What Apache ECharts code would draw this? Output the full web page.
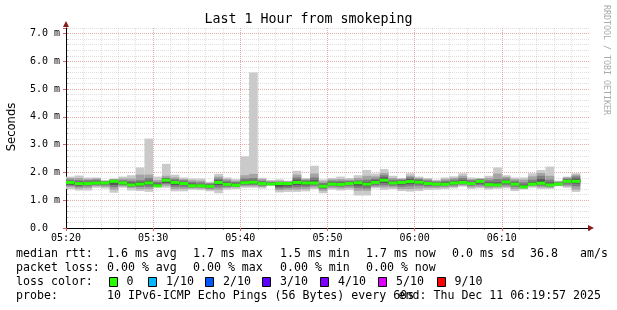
<!DOCTYPE html>
<html><head><meta charset="utf-8">
<script src="https://cdn.jsdelivr.net/npm/echarts@6/dist/echarts.min.js"></script>
<style>html,body{margin:0;padding:0;background:#fff}#c{width:617px;height:310px}</style>
</head><body><div id="c"></div>
<script>
// ---- data (milliseconds) ----
const stepStarts = ['05:20','05:21','05:22','05:23','05:24','05:25','05:26','05:27','05:28','05:29',
  '05:30','05:31','05:32','05:33','05:34','05:35','05:36','05:37','05:38','05:39',
  '05:40','05:41','05:42','05:43','05:44','05:45','05:46','05:47','05:48','05:49',
  '05:50','05:51','05:52','05:53','05:54','05:55','05:56','05:57','05:58','05:59',
  '06:00','06:01','06:02','06:03','06:04','06:05','06:06','06:07','06:08','06:09',
  '06:10','06:11','06:12','06:13','06:14','06:15','06:16','06:17','06:18'];
const tickLabels = ['05:20','05:30','05:40','05:50','06:00','06:10'];
const ping1 = [1.40,1.35,1.35,1.45,1.42,1.27,1.45,1.35,1.33,1.30, 1.45,1.45,1.32,1.32,1.38,1.36,1.32,1.25,1.38,1.40, 1.45,1.45,1.42,1.52,1.28,1.30,1.30,1.32,1.40,1.25, 1.38,1.35,1.37,1.17,1.17,1.43,1.37,1.40,1.33,1.31, 1.33,1.37,1.38,1.40,1.43,1.49,1.41,1.43,1.38,1.41, 1.43,1.33,1.39,1.45,1.41,1.41,1.50,1.45,1.30];
const ping2 = [1.47,1.42,1.44,1.50,1.48,1.38,1.50,1.44,1.40,1.40, 1.48,1.52,1.40,1.40,1.42,1.42,1.38,1.38,1.44,1.46, 1.50,1.50,1.48,1.54,1.36,1.38,1.38,1.40,1.46,1.34, 1.44,1.42,1.44,1.34,1.34,1.48,1.46,1.46,1.40,1.40, 1.42,1.44,1.44,1.46,1.48,1.53,1.46,1.48,1.44,1.46, 1.48,1.40,1.42,1.50,1.46,1.45,1.52,1.50,1.38];
const ping3 = [1.52,1.48,1.50,1.54,1.53,1.47,1.54,1.48,1.48,1.48, 1.50,1.58,1.48,1.47,1.46,1.46,1.42,1.46,1.48,1.49, 1.54,1.55,1.52,1.55,1.42,1.44,1.46,1.48,1.52,1.40, 1.50,1.48,1.50,1.44,1.42,1.53,1.54,1.52,1.48,1.50, 1.52,1.50,1.50,1.50,1.53,1.57,1.52,1.54,1.50,1.50, 1.54,1.48,1.44,1.53,1.52,1.49,1.54,1.56,1.50];
const ping4 = [1.56,1.53,1.55,1.58,1.57,1.55,1.57,1.52,1.52,1.55, 1.52,1.62,1.55,1.54,1.48,1.48,1.46,1.55,1.52,1.51, 1.58,1.60,1.56,1.56,1.48,1.50,1.54,1.54,1.58,1.44, 1.54,1.53,1.55,1.52,1.50,1.58,1.62,1.57,1.56,1.58, 1.58,1.54,1.54,1.53,1.57,1.60,1.56,1.60,1.53,1.53, 1.60,1.54,1.46,1.56,1.57,1.52,1.56,1.62,1.60];
const ping5 = [1.60,1.57,1.58,1.60,1.60,1.64,1.60,1.53,1.55,1.60, 1.52,1.70,1.61,1.58,1.50,1.50,1.48,1.62,1.55,1.53, 1.61,1.63,1.59,1.57,1.54,1.56,1.61,1.60,1.61,1.48, 1.57,1.56,1.58,1.60,1.55,1.62,1.70,1.60,1.62,1.65, 1.63,1.58,1.56,1.55,1.60,1.62,1.58,1.66,1.55,1.54, 1.64,1.57,1.47,1.57,1.60,1.54,1.57,1.66,1.66];
const ping6 = [1.66,1.62,1.62,1.64,1.64,1.70,1.63,1.58,1.60,1.64, 1.56,1.74,1.67,1.62,1.55,1.54,1.52,1.66,1.60,1.56, 1.65,1.67,1.62,1.60,1.60,1.61,1.67,1.64,1.65,1.52, 1.60,1.60,1.62,1.65,1.60,1.66,1.75,1.64,1.66,1.70, 1.67,1.62,1.60,1.59,1.64,1.66,1.62,1.70,1.58,1.57, 1.68,1.60,1.50,1.60,1.64,1.57,1.59,1.70,1.72];
const ping7 = [1.70,1.67,1.66,1.68,1.66,1.72,1.66,1.64,1.66,1.70, 1.60,1.78,1.70,1.66,1.60,1.58,1.56,1.72,1.64,1.60, 1.70,1.72,1.66,1.62,1.63,1.63,1.74,1.68,1.72,1.56, 1.64,1.64,1.66,1.68,1.66,1.72,1.82,1.68,1.70,1.76, 1.72,1.66,1.63,1.64,1.68,1.72,1.66,1.73,1.64,1.64, 1.72,1.64,1.56,1.66,1.76,1.64,1.62,1.74,1.78];
const ping8 = [1.74,1.72,1.72,1.74,1.68,1.74,1.72,1.70,1.72,1.80, 1.66,1.80,1.76,1.72,1.66,1.64,1.60,1.78,1.70,1.66, 1.78,1.80,1.70,1.66,1.66,1.66,1.82,1.72,1.82,1.62, 1.70,1.70,1.70,1.72,1.74,1.78,1.90,1.74,1.74,1.82, 1.76,1.71,1.67,1.70,1.74,1.80,1.72,1.76,1.72,1.76, 1.78,1.70,1.64,1.74,1.88,1.74,1.65,1.78,1.86];
const ping9 = [1.80,1.80,1.76,1.78,1.70,1.76,1.78,1.78,1.92,1.92, 1.72,1.88,1.82,1.76,1.72,1.70,1.62,1.85,1.76,1.70, 1.90,1.95,1.76,1.70,1.70,1.68,1.92,1.76,1.96,1.68, 1.75,1.76,1.74,1.80,1.88,1.86,1.98,1.80,1.77,1.88, 1.80,1.76,1.70,1.76,1.80,1.88,1.76,1.78,1.80,1.96, 1.84,1.76,1.74,1.86,1.98,1.88,1.68,1.82,1.92];
const ping10 = [1.85,1.89,1.82,1.82,1.72,1.78,1.85,1.90,2.18,3.22, 1.85,2.31,1.92,1.82,1.78,1.78,1.66,1.95,1.82,1.76, 2.58,5.60,1.80,1.72,1.75,1.70,2.06,1.80,2.24,1.75, 1.80,1.85,1.80,1.90,2.09,1.96,2.12,1.88,1.80,1.97, 1.85,1.80,1.74,1.82,1.86,1.97,1.82,1.80,1.88,2.18, 1.90,1.82,1.82,1.97,2.09,2.21,1.70,1.85,1.97];
const medianRtt = [1.64,1.60,1.60,1.62,1.62,1.68,1.62,1.55,1.58,1.62, 1.52,1.72,1.64,1.60,1.52,1.52,1.50,1.64,1.57,1.54, 1.63,1.65,1.60,1.58,1.60,1.60,1.64,1.62,1.62,1.50, 1.58,1.57,1.60,1.63,1.58,1.64,1.72,1.62,1.64,1.67, 1.65,1.60,1.58,1.57,1.62,1.64,1.60,1.68,1.56,1.55, 1.66,1.58,1.48,1.58,1.61,1.55,1.58,1.68,1.68];
const lossLabels = ['0','1/10','2/10','3/10','4/10','5/10','9/10'];
const lossColors = ['#26ff00','#00b8ff','#0059ff','#5e00ff','#7e00ff','#dd00ff','#ff0000'];

// ---- build ----
const MONO = 'DejaVu Sans Mono';
const toMin = s => { const [h, m] = s.split(':').map(Number); return (h * 60 + m) - (5 * 60 + 20); };
const pings = [ping1, ping2, ping3, ping4, ping5, ping6, ping7, ping8, ping9, ping10];
const data = stepStarts.map((s, i) => [toMin(s), ...pings.map(p => p[i]), medianRtt[i]]);
const shades = ['#cacaca', '#a4a4a4', '#7e7e7e', '#585858', '#323232'];
const GRID = 'rgba(150,150,150,0.3)';
const MGRID = 'rgba(235,80,80,0.35)';

const chart = echarts.init(document.getElementById('c'), null, {renderer: 'canvas'});
const opt = {
  animation: false,
  backgroundColor: '#fff',
  grid: {left: 66, right: 28, top: 28, bottom: 82, containLabel: false},
  xAxis: [
    {type: 'value', min: 0, max: 60, interval: 10, position: 'bottom', z: 1,
     axisLine: {show: true, onZero: false, lineStyle: {color: '#000', width: 1}},
     axisTick: {show: true, length: 3, lineStyle: {color: '#e06060'}},
     axisLabel: {show: true, margin: 5, color: '#000', fontFamily: MONO, fontSize: 10,
       formatter: v => (tickLabels[Math.round(v / 10)] !== undefined && v < 60) ? tickLabels[Math.round(v / 10)] : ''},
     splitLine: {show: true, showMaxLine: false, lineStyle: {color: MGRID, type: [1, 1], width: 1}}},
    {type: 'value', min: 0, max: 60, interval: 2, position: 'bottom', z: 0,
     axisLine: {show: false}, axisTick: {show: true, length: 2, lineStyle: {color: '#aaa'}},
     axisLabel: {show: false},
     splitLine: {show: true, showMaxLine: false, lineStyle: {color: GRID, type: [1, 1], width: 1}}}
  ],
  yAxis: [
    {type: 'value', min: 0, max: 7.2, interval: 1, z: 1,
     axisLine: {show: true, onZero: false, lineStyle: {color: '#000', width: 1}},
     axisTick: {show: true, length: 3, lineStyle: {color: '#e06060'}},
     axisLabel: {show: true, align: 'left', margin: 36, color: '#000', fontFamily: MONO, fontSize: 10,
       formatter: v => Math.abs(v - Math.round(v)) > 1e-6 ? '' : (v === 0 ? '0.0' : v.toFixed(1) + ' m')},
     splitLine: {show: true, showMaxLine: false, lineStyle: {color: MGRID, type: [1, 1], width: 1}}},
    {type: 'value', min: 0, max: 7.2, interval: 0.2, z: 0,
     axisLine: {show: false}, axisTick: {show: true, length: 2, lineStyle: {color: '#aaa'}},
     axisLabel: {show: false},
     splitLine: {show: true, lineStyle: {color: GRID, type: [1, 1], width: 1}}}
  ],
  series: [{
    type: 'custom', xAxisIndex: 0, yAxisIndex: 0, z: 3,
    data: data,
    encode: {x: 0, y: [1, 2, 3, 4, 5, 6, 7, 8, 9, 10, 11]},
    renderItem: (params, api) => {
      const x = api.value(0);
      const children = [];
      for (let k = 0; k < 5; k++) {
        const lo = api.value(1 + k), hi = api.value(10 - k);
        const a = api.coord([x, hi]), b = api.coord([x + 1, lo]);
        children.push({type: 'rect', shape: {x: a[0], y: a[1], width: b[0] - a[0], height: b[1] - a[1]},
          style: {fill: shades[k]}});
      }
      const m = api.coord([x, api.value(11)]), m2 = api.coord([x + 1, api.value(11)]);
      children.push({type: 'rect', shape: {x: m[0], y: m[1] - 1.5, width: m2[0] - m[0], height: 3},
        style: {fill: lossColors[0]}});
      return {type: 'group', children};
    }
  }]
};
chart.setOption(opt);

// decorations and legend
const tl = chart.convertToPixel({xAxisIndex: 0, yAxisIndex: 0}, [0, 7.2]);
const br = chart.convertToPixel({xAxisIndex: 0, yAxisIndex: 0}, [60, 0]);
const txt = (x, y, s, extra) => Object.assign({type: 'text', x, y,
  style: Object.assign({text: s, fill: '#000', font: '11.6px "' + MONO + '"', textVerticalAlign: 'middle', textAlign: 'left'}, extra || {})});
const g = [
  {type: 'polygon', shape: {points: [[tl[0], tl[1] - 7], [tl[0] - 3, tl[1] - 1], [tl[0] + 3, tl[1] - 1]]}, style: {fill: '#8b1a1a'}, z: 10},
  {type: 'polygon', shape: {points: [[br[0] + 5, br[1]], [br[0] - 1, br[1] - 3], [br[0] - 1, br[1] + 3]]}, style: {fill: '#8b1a1a'}, z: 10},
  txt(308.5, 20, 'Last 1 Hour from smokeping', {font: '13.3px "' + MONO + '"', textAlign: 'center'}),
  {type: 'text', x: 12, y: 127, rotation: Math.PI / 2,
   style: {text: 'Seconds', fill: '#000', font: '11.6px "DejaVu Sans"', textAlign: 'center', textVerticalAlign: 'middle'}},
  {type: 'text', x: 606.5, y: 5, rotation: -Math.PI / 2,
   style: {text: 'RRDTOOL / TOBI OETIKER', fill: '#aaa', font: '8.3px "' + MONO + '"', textAlign: 'left', textVerticalAlign: 'middle'}},
  txt(16, 254, 'median rtt:'), txt(107, 254, '1.6 ms avg'), txt(193, 254, '1.7 ms max'),
  txt(280, 254, '1.5 ms min'), txt(366, 254, '1.7 ms now'), txt(452, 254, '0.0 ms sd'),
  txt(530, 254, '36.8'), txt(580, 254, 'am/s'),
  txt(16, 268, 'packet loss:'), txt(107, 268, '0.00 % avg'), txt(193, 268, '0.00 % max'),
  txt(280, 268, '0.00 % min'), txt(366, 268, '0.00 % now'),
  txt(16, 282, 'loss color:'),
  txt(16, 296, 'probe:'), txt(107, 296, '10 IPv6-ICMP Echo Pings (56 Bytes) every 60s'),
  txt(601, 296, 'end: Thu Dec 11 06:19:57 2025', {textAlign: 'right'})
];
const boxX = [108.5, 148, 205, 262, 320, 378, 436.5];
lossLabels.forEach((l, i) => {
  g.push({type: 'rect', shape: {x: Math.round(boxX[i]) + 0.5, y: 277.5, width: 8, height: 9},
    style: {fill: lossColors[i], stroke: '#000', lineWidth: 1}});
  g.push(txt(boxX[i] + 18, 282, l));
});
chart.setOption({graphic: g});
</script></body></html>
